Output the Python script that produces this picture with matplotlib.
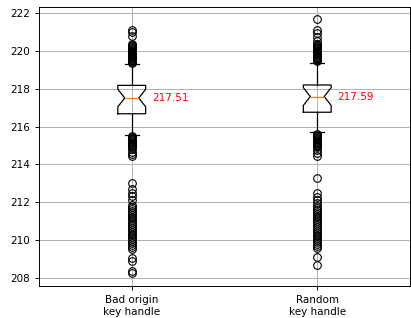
import matplotlib
matplotlib.use("Agg")
import matplotlib.pyplot as plt

labels = ["Bad origin\nkey handle", "Random\nkey handle"]
medians = [217.51, 217.59]
q1s = [216.68, 216.76]
q3s = [218.18, 218.20]
ci_lo = [217.05, 217.12]
ci_hi = [217.97, 218.06]
whisk_lo = [215.55, 215.70]
whisk_hi = [219.30, 219.38]

fliers_bad = [
    221.1, 221.0, 220.8, 220.35, 220.3, 220.25, 220.2, 220.15, 220.1, 220.05,
    220.0, 219.95, 219.9, 219.85, 219.8, 219.75, 219.7, 219.65, 219.6, 219.55,
    219.5, 219.45, 219.4, 219.35,
    215.5, 215.45, 215.4, 215.35, 215.3, 215.25, 215.2, 215.15, 215.1, 215.05,
    215.0, 214.9, 214.8, 214.65, 214.55, 214.45,
    213.0, 212.7, 212.5, 212.35, 212.1, 211.85, 211.75, 211.65, 211.55, 211.45,
    211.35, 211.25, 211.15, 211.05, 210.95, 210.85, 210.75, 210.65, 210.55,
    210.45, 210.35, 210.25, 210.15, 210.05, 209.95, 209.85, 209.75, 209.65,
    209.55, 209.05, 208.9, 208.35, 208.25,
]
fliers_rand = [
    221.7, 221.1, 220.95, 220.75, 220.55, 220.35, 220.3, 220.25, 220.2, 220.15,
    220.1, 220.05, 220.0, 219.95, 219.9, 219.85, 219.8, 219.75, 219.7, 219.65,
    219.6, 219.55, 219.5, 219.45,
    215.6, 215.55, 215.5, 215.45, 215.4, 215.35, 215.3, 215.25, 215.2, 215.15,
    215.1, 215.05, 215.0, 214.9, 214.75, 214.6, 214.45,
    213.3, 212.5, 212.3, 212.1, 211.95, 211.8, 211.7, 211.6, 211.5, 211.4,
    211.3, 211.2, 211.1, 211.0, 210.9, 210.8, 210.7, 210.6, 210.5, 210.4,
    210.3, 210.2, 210.1, 210.0, 209.9, 209.8, 209.7, 209.6, 209.1, 208.7,
]
fliers = [fliers_bad, fliers_rand]

stats = []
for i in range(2):
    stats.append({
        "med": medians[i], "q1": q1s[i], "q3": q3s[i],
        "cilo": ci_lo[i], "cihi": ci_hi[i],
        "whislo": whisk_lo[i], "whishi": whisk_hi[i],
        "fliers": fliers[i], "label": labels[i],
    })

fig = plt.figure(figsize=(4.11, 3.18), dpi=100)
ax = fig.add_axes([39 / 411, 32 / 318, 371 / 411, 279 / 318])
ax.bxp(stats, shownotches=True, widths=0.15,
       flierprops=dict(markersize=5.5, markeredgewidth=0.8),
       boxprops=dict(linewidth=0.9), whiskerprops=dict(linewidth=0.9),
       capprops=dict(linewidth=0.9), medianprops=dict(linewidth=0.9))
ax.grid(True, linewidth=0.7)
ax.set_axisbelow(True)
for i, m in enumerate(medians):
    ax.text(i + 1.11, m, f"{m:.2f}", color="red", va="center", ha="left", fontsize=7.5)
ax.set_ylim(207.58, 222.32)
ax.set_xlim(0.5, 2.5)
ax.tick_params(labelsize=7.5, length=3, width=0.7)
for s in ax.spines.values():
    s.set_linewidth(0.7)

fig.savefig("out.png", dpi=100)
